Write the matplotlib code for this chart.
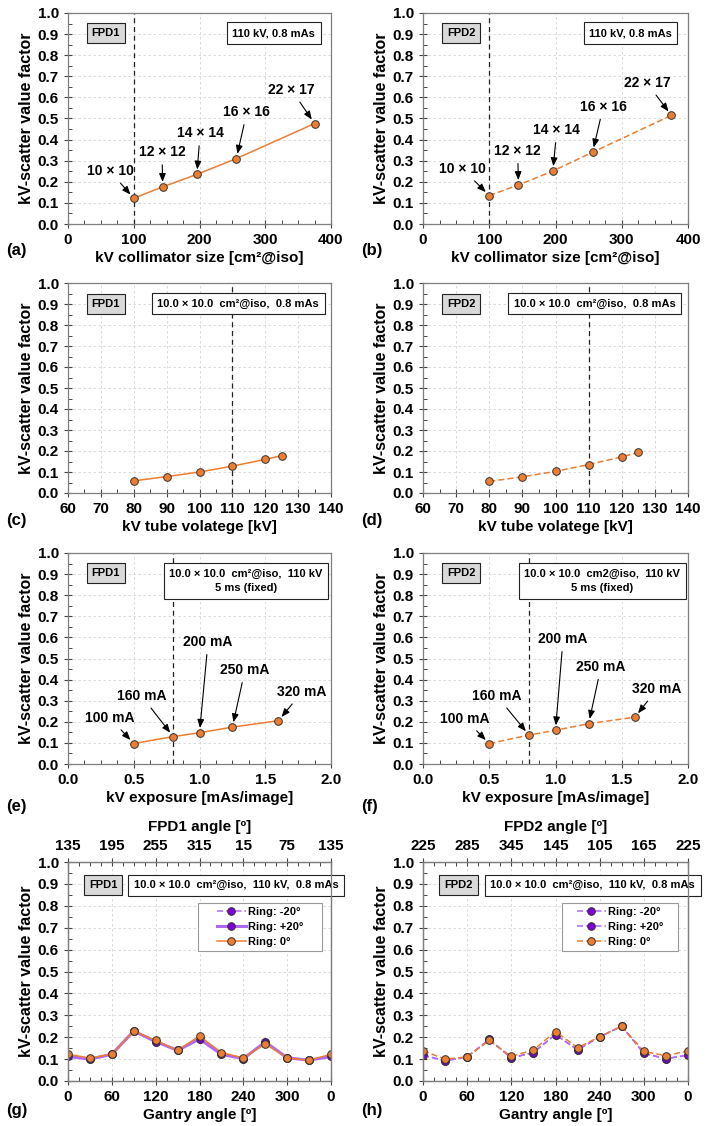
import matplotlib
matplotlib.use("Agg")
import matplotlib.pyplot as plt
from matplotlib.ticker import MultipleLocator, FormatStrFormatter
from matplotlib.patches import Rectangle

plt.rcParams["font.family"] = ["Liberation Sans", "DejaVu Sans"]
plt.rcParams["font.weight"] = "bold"
plt.rcParams["axes.labelweight"] = "bold"

ORANGE = "#ED7D31"
VIOLET_LINE = "#B067F5"
VIOLET_FACE = "#7E00D9"
EDGE = "#333333"

# (a)/(b) collimator size
coll_x = [100, 144, 196, 256, 375]
coll_fpd1 = [0.122, 0.176, 0.235, 0.310, 0.476]
coll_fpd2 = [0.135, 0.185, 0.251, 0.340, 0.515]
coll_labels = ["10 \u00d7 10", "12 \u00d7 12", "14 \u00d7 14", "16 \u00d7 16", "22 \u00d7 17"]

# (c)/(d) tube voltage
kv_x = [80, 90, 100, 110, 120, 125]
kv_fpd1 = [0.058, 0.078, 0.100, 0.128, 0.160, 0.178]
kv_fpd2 = [0.055, 0.077, 0.103, 0.135, 0.172, 0.193]

# (e)/(f) exposure
mas_x = [0.5, 0.8, 1.0, 1.25, 1.6]
mas_fpd1 = [0.097, 0.130, 0.148, 0.175, 0.205]
mas_fpd2 = [0.097, 0.137, 0.160, 0.191, 0.222]
mas_labels = ["100 mA", "160 mA", "200 mA", "250 mA", "320 mA"]

# (g)/(h) gantry angle
gantry = [0, 30, 60, 90, 120, 150, 180, 210, 240, 270, 300, 330, 360]
g_ring0 = [0.122, 0.105, 0.122, 0.228, 0.185, 0.140, 0.205, 0.130, 0.105, 0.170, 0.105, 0.095, 0.122]
g_ringm = [0.112, 0.100, 0.122, 0.228, 0.180, 0.140, 0.192, 0.122, 0.102, 0.178, 0.106, 0.095, 0.112]
g_ringp = [0.112, 0.100, 0.122, 0.228, 0.180, 0.140, 0.192, 0.122, 0.102, 0.178, 0.106, 0.095, 0.112]
h_ring0 = [0.138, 0.100, 0.110, 0.185, 0.112, 0.142, 0.226, 0.152, 0.202, 0.250, 0.135, 0.115, 0.138]
h_ringm = [0.118, 0.092, 0.110, 0.190, 0.105, 0.130, 0.212, 0.142, 0.202, 0.250, 0.126, 0.102, 0.118]
h_ringp = [0.118, 0.092, 0.110, 0.190, 0.105, 0.130, 0.212, 0.142, 0.202, 0.250, 0.126, 0.102, 0.118]
gantry_ticks = [0, 60, 120, 180, 240, 300, 360]
gantry_ticklabels = ["0", "60", "120", "180", "240", "300", "0"]
fpd1_top = ["135", "195", "255", "315", "15", "75", "135"]
fpd2_top = ["225", "285", "345", "145", "105", "165", "225"]

W, H = 709, 1126
fig = plt.figure(figsize=(W / 100, H / 100), dpi=100)


def make_ax(left, right, top, bottom):
    return fig.add_axes([left / W, 1 - bottom / H, (right - left) / W, (bottom - top) / H])


def tick_style(ax):
    ax.tick_params(which="both", labelsize=11, color="#444444")
    ax.tick_params(which="major", direction="inout", length=6, width=0.8)
    ax.tick_params(which="minor", direction="in", length=3, width=0.7)


def style(ax, xmin, xmax, major, minor, xlabel):
    ax.set_xlim(xmin, xmax)
    ax.set_ylim(0, 1.0)
    ax.xaxis.set_major_locator(MultipleLocator(major))
    ax.xaxis.set_minor_locator(MultipleLocator(minor))
    ax.yaxis.set_major_locator(MultipleLocator(0.1))
    ax.yaxis.set_minor_locator(MultipleLocator(0.05))
    ax.yaxis.set_major_formatter(FormatStrFormatter("%.1f"))
    ax.grid(True, which="major", ls=(0, (3, 3)), lw=0.6, color="#d4d4d4")
    ax.set_axisbelow(True)
    tick_style(ax)
    for sp in ax.spines.values():
        sp.set_color("#7f7f7f")
        sp.set_linewidth(0.9)
    ax.set_xlabel(xlabel, fontsize=11, labelpad=3)
    ax.set_ylabel("kV-scatter value factor", fontsize=11.5, labelpad=3)


def tag_box(ax, x, y, text):
    ax.text(x, y, text, transform=ax.transAxes, ha="center", va="center", fontsize=8,
            bbox=dict(boxstyle="square,pad=0.45", fc="#d9d9d9", ec="#222222", lw=0.8))


def cond_box(ax, x, y, text):
    ax.text(x, y, text, transform=ax.transAxes, ha="center", va="center", fontsize=8,
            linespacing=1.5, clip_on=False,
            bbox=dict(boxstyle="square,pad=0.5", fc="white", ec="#222222", lw=0.8))


def annotate(ax, xs, ys, labels, pos):
    for x, y, lab, (tx, ty) in zip(xs, ys, labels, pos):
        ax.annotate(lab, xy=(x, y), xytext=(tx, ty), fontsize=10, ha="center", va="center",
                    arrowprops=dict(arrowstyle="-|>,head_length=0.5,head_width=0.2",
                                    color="black", lw=0.8, shrinkA=2, shrinkB=3.5))


def panel_label(ax, lab, ypx):
    fig.text(ax.get_position().x0 - 62 / W, 1 - ypx / H, lab, fontsize=12,
             fontweight="bold", va="center")


mk = dict(marker="o", ms=5.5, mfc=ORANGE, mec=EDGE, mew=0.7, color=ORANGE, lw=1.1)

L1, R1, L2, R2 = 68, 331, 423, 688

# (a)
ax = make_ax(L1, R1, 13, 224)
style(ax, 0, 400, 100, 25, "kV collimator size [cm\u00b2@iso]")
ax.axvline(100, color="#222222", ls=(0, (4, 3)), lw=0.9)
ax.plot(coll_x, coll_fpd1, ls="-", **mk)
annotate(ax, coll_x, coll_fpd1, coll_labels,
         [(64, 0.25), (143, 0.34), (201, 0.43), (272, 0.53), (340, 0.635)])
tag_box(ax, 0.144, 0.907, "FPD1")
cond_box(ax, 0.783, 0.905, "110 kV, 0.8 mAs")
panel_label(ax, "(a)", 250)

# (b)
ax = make_ax(L2, R2, 13, 224)
style(ax, 0, 400, 100, 25, "kV collimator size [cm\u00b2@iso]")
ax.axvline(100, color="#222222", ls=(0, (4, 3)), lw=0.9)
ax.plot(coll_x, coll_fpd2, ls=(0, (4, 2)), **mk)
annotate(ax, coll_x, coll_fpd2, coll_labels,
         [(60, 0.26), (143, 0.346), (202, 0.445), (272, 0.555), (338, 0.668)])
tag_box(ax, 0.144, 0.907, "FPD2")
cond_box(ax, 0.783, 0.905, "110 kV, 0.8 mAs")
panel_label(ax, "(b)", 250)

# (c)
ax = make_ax(L1, R1, 283, 493)
style(ax, 60, 140, 10, 5, "kV tube volatege [kV]")
ax.axvline(110, color="#222222", ls=(0, (4, 3)), lw=0.9)
ax.plot(kv_x, kv_fpd1, ls="-", **mk)
tag_box(ax, 0.144, 0.902, "FPD1")
cond_box(ax, 0.647, 0.902, "10.0 \u00d7 10.0  cm\u00b2@iso,  0.8 mAs")
panel_label(ax, "(c)", 520)

# (d)
ax = make_ax(L2, R2, 283, 493)
style(ax, 60, 140, 10, 5, "kV tube volatege [kV]")
ax.axvline(110, color="#222222", ls=(0, (4, 3)), lw=0.9)
ax.plot(kv_x, kv_fpd2, ls=(0, (4, 2)), **mk)
tag_box(ax, 0.144, 0.902, "FPD2")
cond_box(ax, 0.647, 0.902, "10.0 \u00d7 10.0  cm\u00b2@iso,  0.8 mAs")
panel_label(ax, "(d)", 520)

# (e)
ax = make_ax(L1, R1, 553, 764)
style(ax, 0, 2.0, 0.5, 0.125, "kV exposure [mAs/image]")
ax.xaxis.set_major_formatter(FormatStrFormatter("%.1f"))
ax.axvline(0.8, color="#222222", ls=(0, (4, 3)), lw=0.9)
ax.plot(mas_x, mas_fpd1, ls="-", **mk)
annotate(ax, mas_x, mas_fpd1, mas_labels,
         [(0.32, 0.218), (0.56, 0.322), (1.065, 0.578), (1.346, 0.445), (1.78, 0.341)])
tag_box(ax, 0.144, 0.907, "FPD1")
cond_box(ax, 0.677, 0.867, "10.0 \u00d7 10.0  cm\u00b2@iso,  110 kV\n5 ms (fixed)")
panel_label(ax, "(e)", 806)

# (f)
ax = make_ax(L2, R2, 553, 764)
style(ax, 0, 2.0, 0.5, 0.125, "kV exposure [mAs/image]")
ax.xaxis.set_major_formatter(FormatStrFormatter("%.1f"))
ax.axvline(0.8, color="#222222", ls=(0, (4, 3)), lw=0.9)
ax.plot(mas_x, mas_fpd2, ls=(0, (4, 2)), **mk)
annotate(ax, mas_x, mas_fpd2, mas_labels,
         [(0.317, 0.213), (0.558, 0.322), (1.057, 0.592), (1.343, 0.46), (1.766, 0.355)])
tag_box(ax, 0.144, 0.907, "FPD2")
cond_box(ax, 0.677, 0.867, "10.0 \u00d7 10.0  cm2@iso,  110 kV\n5 ms (fixed)")
panel_label(ax, "(f)", 806)


def gantry_panel(left, right, r0, rm, rp, top_labels, fpd, dashed, lab, box):
    ax = make_ax(left, right, 862, 1081)
    style(ax, 0, 360, 60, 15, "Gantry angle [\u00ba]")
    ax.set_xticks(gantry_ticks)
    ax.set_xticklabels(gantry_ticklabels)
    ls_main = (0, (4, 2)) if dashed else "-"
    ax.plot(gantry, rm, ls=(0, (4, 2)), marker="o", ms=5.5, mfc=VIOLET_FACE, mec=EDGE,
            mew=0.7, color=VIOLET_LINE, lw=1.1, label="Ring: -20\u00b0")
    ax.plot(gantry, rp, ls=ls_main, marker="o", ms=5.5, mfc=VIOLET_FACE, mec=EDGE,
            mew=0.7, color=VIOLET_LINE, lw=1.1 if dashed else 2.2, label="Ring: +20\u00b0")
    ax.plot(gantry, r0, ls=ls_main, label="Ring: 0\u00b0", **mk)
    x0, x1, y0, y1 = box
    ax.add_patch(Rectangle((x0, y0), x1 - x0, y1 - y0, transform=ax.transAxes,
                           fc="white", ec="#999999", lw=0.8, zorder=4))
    ax.legend(loc="center", bbox_to_anchor=((x0 + x1) / 2, (y0 + y1) / 2), fontsize=8,
              frameon=False, handlelength=2.6, handletextpad=0.2, labelspacing=0.45,
              borderpad=0, borderaxespad=0).set_zorder(5)
    top = ax.twiny()
    top.set_xlim(0, 360)
    top.set_xticks(gantry_ticks)
    top.set_xticklabels(top_labels)
    top.xaxis.set_minor_locator(MultipleLocator(15))
    tick_style(top)
    for sp in top.spines.values():
        sp.set_color("#7f7f7f")
        sp.set_linewidth(0.9)
    top.set_xlabel(f"{fpd} angle [\u00ba]", fontsize=11, labelpad=6)
    tag_box(ax, 0.134, 0.895, fpd)
    cond_box(ax, 0.64, 0.893, "10.0 \u00d7 10.0  cm\u00b2@iso,  110 kV,  0.8 mAs")
    panel_label(ax, lab, 1110)


gantry_panel(L1, R1, g_ring0, g_ringm, g_ringp, fpd1_top, "FPD1", False, "(g)",
             (0.494, 0.966, 0.594, 0.813))
gantry_panel(L2, R2, h_ring0, h_ringm, h_ringp, fpd2_top, "FPD2", True, "(h)",
             (0.525, 0.962, 0.594, 0.813))

fig.savefig("out.png", dpi=100)
